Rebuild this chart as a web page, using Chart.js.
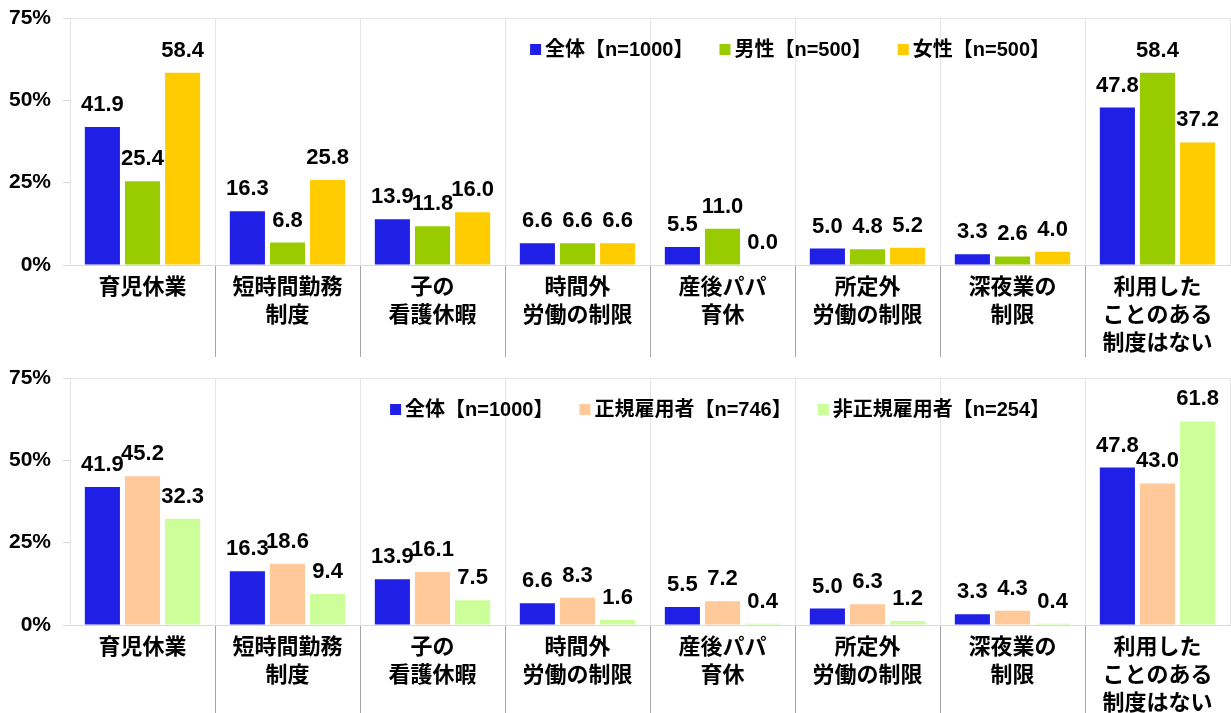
<!DOCTYPE html>
<html>
<head>
<meta charset="utf-8">
<script src="https://cdn.jsdelivr.net/npm/chart.js@4.4.1/dist/chart.umd.min.js"></script>
<style>
  body { margin: 0; background: #fff; }
  .box { position: relative; width: 1231px; }
</style>
</head>
<body>
<div class="box" style="height:360px"><canvas id="sexChart"></canvas></div>
<div class="box" style="height:353px"><canvas id="empChart"></canvas></div>
<script>
const categories = [
  ['育児休業'],
  ['短時間勤務', '制度'],
  ['子の', '看護休暇'],
  ['時間外', '労働の制限'],
  ['産後パパ', '育休'],
  ['所定外', '労働の制限'],
  ['深夜業の', '制限'],
  ['利用した', 'ことのある', '制度はない']
];
const allRespondents = [41.9, 16.3, 13.9, 6.6, 5.5, 5.0, 3.3, 47.8];
const male = [25.4, 6.8, 11.8, 6.6, 11.0, 4.8, 2.6, 58.4];
const female = [58.4, 25.8, 16.0, 6.6, 0.0, 5.2, 4.0, 37.2];
const regular = [45.2, 18.6, 16.1, 8.3, 7.2, 6.3, 4.3, 43.0];
const nonRegular = [32.3, 9.4, 7.5, 1.6, 0.4, 1.2, 0.4, 61.8];
const yTicks = [0, 25, 50, 75];

(() => {
  const FONT = '"Liberation Sans", "Noto Sans CJK JP", sans-serif';

  // value above each bar
  const valueLabels = {
    id: 'valueLabels',
    afterDatasetsDraw(chart) {
      const ctx = chart.ctx;
      ctx.save();
      ctx.font = 'bold 22px ' + FONT;
      ctx.fillStyle = '#000';
      ctx.textAlign = 'center';
      ctx.textBaseline = 'alphabetic';
      chart.data.datasets.forEach((ds, i) => {
        chart.getDatasetMeta(i).data.forEach((bar, j) => {
          ctx.fillText(ds.data[j].toFixed(1), bar.x, bar.y - 16);
        });
      });
      ctx.restore();
    }
  };

  // legend drawn inside the plot, right aligned
  const boxLegend = {
    id: 'boxLegend',
    afterDraw(chart, args, opts) {
      const ctx = chart.ctx;
      ctx.save();
      ctx.font = 'bold 20px ' + FONT;
      ctx.textBaseline = 'middle';
      const items = chart.data.datasets.map(ds => ({ text: ds.label, color: ds.backgroundColor, w: ctx.measureText(ds.label).width }));
      const total = items.reduce((s, it) => s + 11 + 4 + it.w, 0) + opts.gap * (items.length - 1);
      let x = chart.chartArea.right - opts.right - total;
      const y = chart.chartArea.top + opts.top;
      items.forEach(it => {
        ctx.fillStyle = it.color;
        ctx.fillRect(x, y - 6, 11, 11);
        x += 15;
        ctx.fillStyle = '#000';
        ctx.fillText(it.text, x, y);
        x += it.w + opts.gap;
      });
      ctx.restore();
    }
  };

  const makeChart = (id, datasets, axisHeight) => new Chart(document.getElementById(id), {
    type: 'bar',
    data: { labels: categories, datasets },
    options: {
      responsive: true,
      maintainAspectRatio: false,
      animation: false,
      layout: { padding: { top: 18, right: 1, left: 0, bottom: 0 } },
      datasets: { bar: { categoryPercentage: 0.83, barPercentage: 0.875 } },
      scales: {
        x: {
          afterFit: s => { s.height = axisHeight; },
          border: { color: '#d9d9d9' },
          grid: {
            offset: true,
            color: '#e6e6e6',
            tickColor: c => (c.index > 0 ? '#a6a6a6' : 'rgba(0,0,0,0)'),
            tickLength: 92
          },
          ticks: { padding: -83, color: '#000', font: { family: FONT, size: 22, weight: 'bold', lineHeight: 1.27 } }
        },
        y: {
          min: 0,
          max: 75,
          afterFit: s => { s.width = 70; },
          afterBuildTicks: s => { s.ticks = yTicks.map(v => ({ value: v })); },
          border: { color: '#e6e6e6' },
          grid: {
            color: c => (c.tick && c.tick.value === 75 ? '#e6e6e6' : 'rgba(0,0,0,0)'),
            tickColor: '#d9d9d9',
            tickLength: 7
          },
          ticks: { padding: 12, color: '#000', font: { family: FONT, size: 21, weight: 'bold', lineHeight: 0.5 }, callback: v => v + '%' }
        }
      },
      plugins: {
        legend: { display: false },
        tooltip: { enabled: false },
        boxLegend: { right: 180, top: 32, gap: 26 }
      }
    },
    plugins: [valueLabels, boxLegend]
  });

  makeChart('sexChart', [
    { label: '全体【n=1000】', data: allRespondents, backgroundColor: '#1f1fe6' },
    { label: '男性【n=500】', data: male, backgroundColor: '#99cc00' },
    { label: '女性【n=500】', data: female, backgroundColor: '#ffcc00' }
  ], 95);

  makeChart('empChart', [
    { label: '全体【n=1000】', data: allRespondents, backgroundColor: '#1f1fe6' },
    { label: '正規雇用者【n=746】', data: regular, backgroundColor: '#ffc999' },
    { label: '非正規雇用者【n=254】', data: nonRegular, backgroundColor: '#ccff99' }
  ], 88);
})();
</script>
</body>
</html>
